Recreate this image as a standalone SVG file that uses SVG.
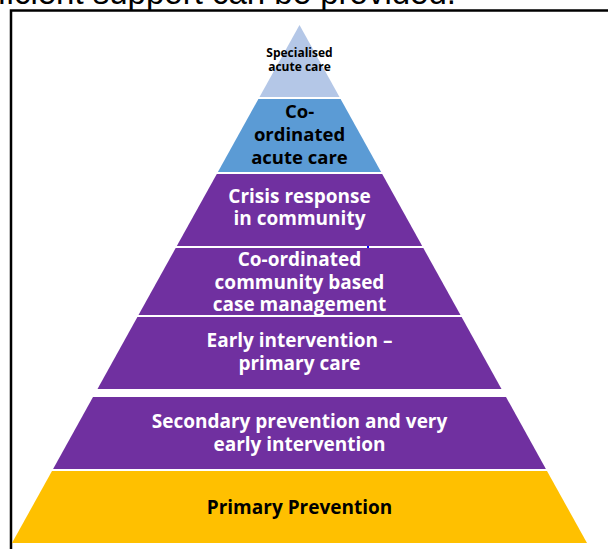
<svg xmlns="http://www.w3.org/2000/svg" width="608" height="549" viewBox="0 0 608 549">
<style>
.lbl{font-family:"Open Sans","Liberation Sans",sans-serif;font-weight:bold;text-anchor:middle}
.w{fill:#FFFFFF}
.k{fill:#000000}
.purple{fill:#7030A0}
</style>
<rect x="0" y="0" width="608" height="549" fill="#FFFFFF"/>
<text x="456" y="4" font-family="'Liberation Sans',Arial,sans-serif" font-size="33" text-anchor="end" fill="#000">efficient support can be provided.</text>
<g id="frame" fill="none" stroke="#000" stroke-width="2.5">
<path d="M11,549 V10.5 H608"/>
</g>
<g id="connectors"></g>
<g id="specialised">
<polygon points="299.5,25 339.5,97 259.5,97" fill="#B4C7E7"/>
<text class="lbl k" font-size="12"><tspan x="299.5" y="57">Specialised</tspan><tspan x="299.5" y="71">acute care</tspan></text>
</g>
<g id="coordinated-acute">
<polygon points="258.4,99 340.6,99 381.1,172 217.9,172" fill="#5B9BD5"/>
<text class="lbl k" font-size="18.5"><tspan x="299.5" y="118">Co-</tspan><tspan x="299.5" y="141">ordinated</tspan><tspan x="299.5" y="164">acute care</tspan></text>
</g>
<g id="crisis">
<polygon class="purple" points="216.8,174 382.2,174 422.2,246 176.8,246"/>
<text class="lbl w" font-size="19"><tspan x="299.5" y="203">Crisis response</tspan><tspan x="299.5" y="225">in community</tspan></text>
</g>
<g id="community">
<polygon class="purple" points="175.7,248 423.3,248 460.5,315 138.5,315"/>
<text class="lbl w" font-size="19"><tspan x="299.5" y="266">Co-ordinated</tspan><tspan x="299.5" y="289">community based</tspan><tspan x="299.5" y="311">case management</tspan></text>
<rect x="367" y="246" width="2" height="2" fill="#0000FF"/>
</g>
<g id="early">
<polygon class="purple" points="137.4,317 461.6,317 501.5,389 97.5,389"/>
<text class="lbl w" font-size="19"><tspan x="299.5" y="347">Early intervention –</tspan><tspan x="299.5" y="370">primary care</tspan></text>
</g>
<g id="secondary">
<polygon class="purple" points="93,397 506,397 545.9,469 53.1,469"/>
<text class="lbl w" font-size="19"><tspan x="299.5" y="428">Secondary prevention and very</tspan><tspan x="299.5" y="451">early intervention</tspan></text>
</g>
<g id="primary">
<polygon points="52,471 547,471 587,543 12,543" fill="#FFC000"/>
<text class="lbl k" x="299.5" y="514" font-size="19">Primary Prevention</text>
</g>
</svg>
